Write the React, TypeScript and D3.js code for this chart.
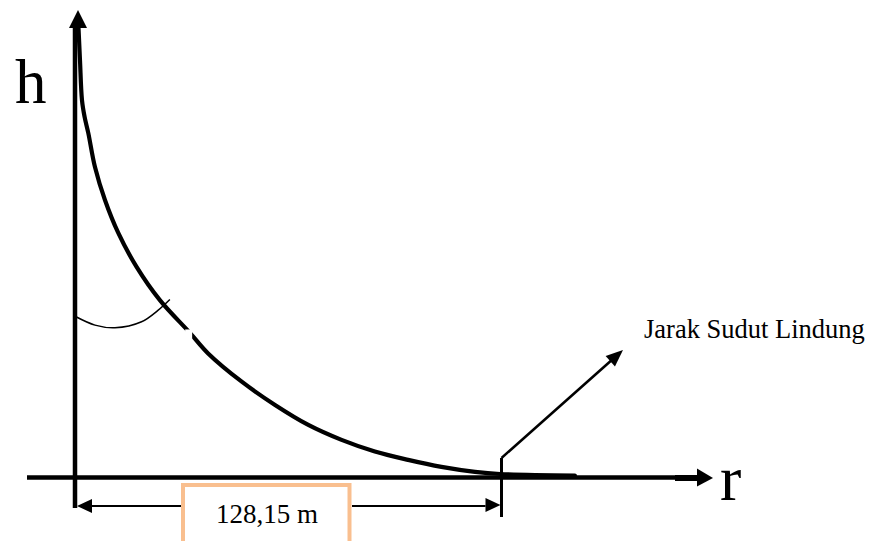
import React from "react";
import * as d3 from "d3";

// ---- data ----
const rValues = [1.05, 1.5, 2.1, 2.9, 4.0, 6.0, 9.0, 13.0, 18.5, 25.5, 34.6, 40.0, 50.1, 60.1, 70.1, 80.1, 90.1, 100.1, 110.1, 120.2, 127.7, 150.2];
const hValues = [135.1, 125.4, 113.4, 108.3, 103.5, 93.3, 83.4, 73.5, 63.3, 53.3, 43.4, 37.3, 28.8, 21.8, 15.8, 11.3, 7.8, 5.3, 3.2, 1.7, 1.05, 0.6];
const distanceValue = 128.15;
const distanceLabel = "128,15 m";
const axisLabels = ["h", "r"];
const calloutLabel = "Jarak Sudut Lindung";
const gapR = [33.1, 35.2];
const gapH = [44.5, 40.5];
// angle arc (in data units)
const arcR = [0.3, 6.0, 12.0, 20.0, 25.0, 28.5];
const arcH = [48.3, 45.8, 45.0, 46.8, 50.3, 53.5];

const W = 869;
const H = 541;
const FONT = "'Liberation Serif', 'Times New Roman', serif";

export default function App() {
  const x = d3.scaleLinear().domain([0, distanceValue]).range([75, 501.5]);
  const y = d3.scaleLinear().domain([0, 140.5]).range([477.5, 10]);

  const pts: [number, number][] = rValues.map((r, i) => [x(r), y(hValues[i])]);
  const curve = d3.line().curve(d3.curveCatmullRom.alpha(0.5))(pts) || "";
  const arcPts: [number, number][] = arcR.map((r, i) => [x(r), y(arcH[i])]);
  const arcPath = d3.line().curve(d3.curveCatmullRom.alpha(0.5))(arcPts) || "";

  const x0 = x(0);
  const y0 = y(0);
  const xd = x(distanceValue);
  const dimY = 506;

  // leader arrow
  const lx0 = xd, ly0 = 458, lx1 = 623, ly1 = 350;
  const len = Math.hypot(lx1 - lx0, ly1 - ly0);
  const ux = (lx1 - lx0) / len, uy = (ly1 - ly0) / len;
  const hl = 17, hw = 7;
  const bx = lx1 - ux * hl, by = ly1 - uy * hl;

  return (
    <svg width={W} height={H} style={{ position: "absolute", left: 0, top: 0, background: "#fff" }}>
      <rect x={0} y={0} width={W} height={H} fill="#fff" />
      {/* curve */}
      <path d={curve} fill="none" stroke="#000" strokeWidth={4.2} strokeLinecap="round" />
      <rect x={x(gapR[0])} y={y(gapH[0])} width={x(gapR[1]) - x(gapR[0])} height={y(gapH[1]) - y(gapH[0])} fill="#fff" />
      {/* angle arc */}
      <path d={arcPath} fill="none" stroke="#000" strokeWidth={1.5} />

      {/* vertical axis */}
      <line x1={x0} y1={28} x2={x0} y2={508} stroke="#000" strokeWidth={4.5} />
      <polygon points={`${x0 - 6},28 ${x0 + 12},28 ${x0 + 3},10`} fill="#000" />
      {/* horizontal axis */}
      <line x1={27} y1={y0} x2={697} y2={y0} stroke="#000" strokeWidth={4.5} />
      <line x1={675} y1={y0 + 0.5} x2={698} y2={y0 + 0.5} stroke="#000" strokeWidth={6} />
      <polygon points={`697,${y0 - 9} 697,${y0 + 9} 713,${y0 + 0.5}`} fill="#000" />

      {/* axis labels */}
      <text x={15} y={103} fontFamily={FONT} fontSize={63} fill="#000">{axisLabels[0]}</text>
      <text x={720} y={500} fontFamily={FONT} fontSize={64} fill="#000">{axisLabels[1]}</text>

      {/* distance marker */}
      <line x1={xd} y1={458} x2={xd} y2={517} stroke="#000" strokeWidth={3} />
      <line x1={lx0} y1={ly0} x2={bx + ux * 2} y2={by + uy * 2} stroke="#000" strokeWidth={2.5} />
      <polygon
        points={`${lx1},${ly1} ${bx - uy * hw},${by + ux * hw} ${bx + uy * hw},${by - ux * hw}`}
        fill="#000"
      />
      <text x={644} y={338} fontFamily={FONT} fontSize={26.5} fill="#000">{calloutLabel}</text>

      {/* dimension line */}
      <line x1={x0 + 15} y1={dimY} x2={181} y2={dimY} stroke="#000" strokeWidth={2} />
      <polygon points={`${x0 + 2},${dimY} ${x0 + 17},${dimY - 7} ${x0 + 17},${dimY + 7}`} fill="#000" />
      <line x1={352} y1={dimY} x2={xd - 16} y2={dimY} stroke="#000" strokeWidth={2} />
      <polygon points={`${xd - 1},${dimY - 1} ${xd - 16},${dimY - 8} ${xd - 16},${dimY + 6}`} fill="#000" />
      <rect x={183} y={485} width={166.5} height={90} fill="#fff" stroke="#F9BF8F" strokeWidth={4} />
      <text x={267} y={523} textAnchor="middle" fontFamily={FONT} fontSize={27} fill="#000">{distanceLabel}</text>
    </svg>
  );
}
